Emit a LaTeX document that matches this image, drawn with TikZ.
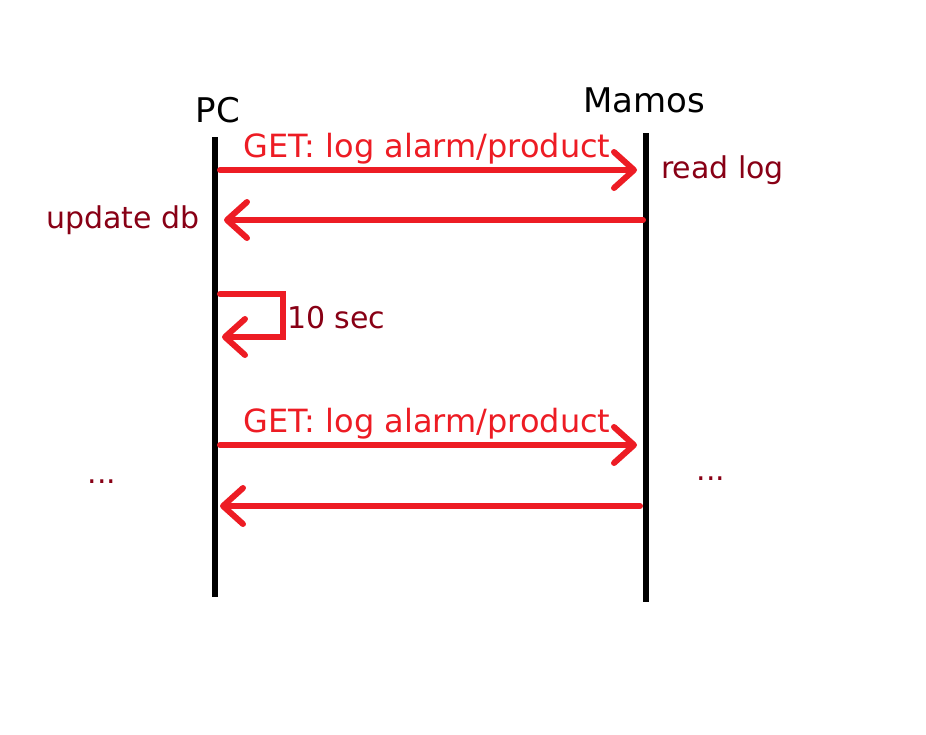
\documentclass[tikz,border=0pt]{standalone}
\usepackage{fontspec}
\setmainfont{DejaVu Sans}
\definecolor{msgred}{RGB}{237, 28, 36}
\definecolor{notered}{RGB}{136, 0, 21}
\usetikzlibrary{arrows.meta, positioning}

\begin{document}
\begin{tikzpicture}[x=1pt, y=-1pt,
  lifeline/.style={draw=black, line width=5.5pt},
  msg/.style={draw=msgred, line width=6pt, line cap=round,
    -{Straight Barb[length=20pt, width=36pt, round]}},
  msglabel/.style={text=msgred, anchor=base, inner sep=0pt, font=\fontsize{32}{36}\selectfont},
  note/.style={text=notered, anchor=base, inner sep=0pt, font=\fontsize{30}{36}\selectfont},
  actor/.style={text=black, anchor=base, inner sep=0pt, font=\fontsize{34}{38}\selectfont}
]
  \useasboundingbox (0,0) rectangle (926,734);

  \node[actor] (pc) at (218, 122) {PC};
  \node[actor] (mamos) at (644, 112) {Mamos};

  \coordinate (pctop) at (215, 137);
  \coordinate (pcbot) at (215, 597);
  \coordinate (mtop) at (646, 133);
  \coordinate (mbot) at (646, 602);
  \draw[lifeline] (pctop) -- (pcbot);
  \draw[lifeline] (mtop) -- (mbot);

  \coordinate (req1) at (220, 170);
  \coordinate (req1end) at (637, 170);
  \coordinate (resp1) at (643, 220);
  \coordinate (resp1end) at (224, 220);
  \coordinate (wait) at (220, 294);
  \coordinate (waitend) at (222, 337);
  \coordinate (req2) at (220, 445);
  \coordinate (req2end) at (637, 445);
  \coordinate (resp2) at (640, 506);
  \coordinate (resp2end) at (220, 506);

  \draw[msg] (req1) -- (req1end);
  \draw[msg] (resp1) -- (resp1end);
  \draw[msg] (wait) -- ++(63,0) |- (waitend);
  \draw[msg] (req2) -- (req2end);
  \draw[msg] (resp2) -- (resp2end);

  \node[msglabel] (get1) at (427, 157) {GET: log alarm/product};
  \node[msglabel] (get2) at (427, 432) {GET: log alarm/product};

  \node[note, anchor=base west] (readlog) at (661, 178) {read log};
  \node[note, anchor=base east] (updatedb) at (200, 228) {update db};
  \node[note, anchor=base west] (tensec) at (287, 328) {10 sec};
  \node[note] (dotsl) at (102, 483) {...};
  \node[note] (dotsr) at (711, 480) {...};
\end{tikzpicture}
\end{document}
